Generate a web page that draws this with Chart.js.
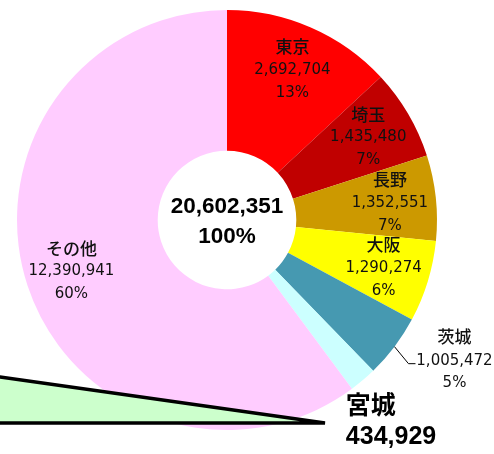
<!DOCTYPE html>
<html>
<head>
<meta charset="utf-8">
<script src="https://cdn.jsdelivr.net/npm/chart.js@4"></script>
<style>
  html, body { margin: 0; padding: 0; background: #fff; }
  #wrap { width: 494px; height: 454px; position: relative; }
</style>
</head>
<body>
<div id="wrap"><canvas id="myChart"></canvas></div>
<script>
const prefs = ['東京', '埼玉', '長野', '大阪', '茨城', '宮城', 'その他'];
const amounts = [2692704, 1435480, 1352551, 1290274, 1005472, 434929, 12390941];
const colors = ['#FF0000', '#C00000', '#CC9900', '#FFFF00', '#4699B1', '#CCFFFF', '#FFCCFF'];

const total = amounts.reduce((a, b) => a + b, 0);
const fmt = n => n.toLocaleString('en-US');
const pct = n => Math.round(n / total * 100) + '%';

const numFont = "15px 'DejaVu Sans', 'Noto Sans CJK JP'";
const nameFont = "500 17px 'Noto Sans CJK JP'";

const labelPlugin = {
  id: 'labels',
  afterDraw(chart) {
    const ctx = chart.ctx;
    const arcs = chart.getDatasetMeta(0).data;
    ctx.save();
    ctx.fillStyle = '#111';
    ctx.textAlign = 'center';
    ctx.textBaseline = 'middle';

    arcs.forEach((arc, i) => {
      const p = arc.getProps(['x', 'y', 'startAngle', 'endAngle', 'outerRadius']);
      const mid = (p.startAngle + p.endAngle) / 2;
      const cos = Math.cos(mid), sin = Math.sin(mid);
      if (i === 4) {
        // leader line label (茨城)
        const ox = p.x + cos * p.outerRadius, oy = p.y + sin * p.outerRadius;
        ctx.strokeStyle = '#000';
        ctx.lineWidth = 1;
        ctx.beginPath();
        ctx.moveTo(ox, oy);
        ctx.lineTo(ox + 14, oy + 17);
        ctx.lineTo(ox + 21, oy + 17);
        ctx.stroke();
        const tx = ox + 60, ty = oy + 14;
        ctx.font = nameFont;
        ctx.fillText(prefs[i], tx, ty - 24);
        ctx.font = numFont;
        ctx.fillText(fmt(amounts[i]), tx, ty);
        ctx.fillText(pct(amounts[i]), tx, ty + 22);
      } else if (i === 5) {
        // 宮城 big bold label
        const ox = p.x + cos * p.outerRadius, oy = p.y + sin * p.outerRadius;
        ctx.textAlign = 'left';
        ctx.fillStyle = '#000';
        ctx.font = "bold 25px 'Noto Sans CJK JP'";
        ctx.fillText(prefs[i], ox - 17, oy + 24);
        ctx.font = "bold 25px 'Liberation Sans', Arial";
        ctx.fillText(fmt(amounts[i]), ox - 17, oy + 57);
        ctx.textAlign = 'center';
        ctx.fillStyle = '#111';
      } else {
        const r = p.outerRadius * 0.78;
        const x = p.x + cos * r, y = p.y + sin * r;
        ctx.font = nameFont;
        ctx.fillText(prefs[i], x, y - 23);
        ctx.font = numFont;
        ctx.fillText(fmt(amounts[i]), x, y);
        ctx.fillText(pct(amounts[i]), x, y + 23);
      }
    });

    // total in the hole
    const c = arcs[0];
    ctx.fillStyle = '#000';
    ctx.font = "bold 22.5px 'Liberation Sans', Arial";
    ctx.fillText(fmt(total), c.x, c.y - 13);
    ctx.fillText('100%', c.x, c.y + 17);

    // green wedge annotation
    ctx.beginPath();
    ctx.moveTo(0, 377);
    ctx.lineTo(325, 423);
    ctx.lineTo(0, 423);
    ctx.closePath();
    ctx.fillStyle = '#CCFFCC';
    ctx.fill();
    ctx.strokeStyle = '#000';
    ctx.lineWidth = 3.5;
    ctx.lineCap = 'round';
    ctx.beginPath();
    ctx.moveTo(0, 377);
    ctx.lineTo(325, 423);
    ctx.lineTo(0, 423);
    ctx.stroke();
    ctx.restore();
  }
};

new Chart(document.getElementById('myChart'), {
  type: 'doughnut',
  data: {
    labels: prefs,
    datasets: [{
      data: amounts,
      backgroundColor: colors,
      borderWidth: 0
    }]
  },
  options: {
    responsive: true,
    maintainAspectRatio: false,
    animation: false,
    cutout: '33%',
    layout: { padding: { left: 17, right: 57, top: 10, bottom: 24 } },
    plugins: {
      legend: { display: false },
      tooltip: { enabled: false }
    }
  },
  plugins: [labelPlugin]
});
</script>
</body>
</html>
